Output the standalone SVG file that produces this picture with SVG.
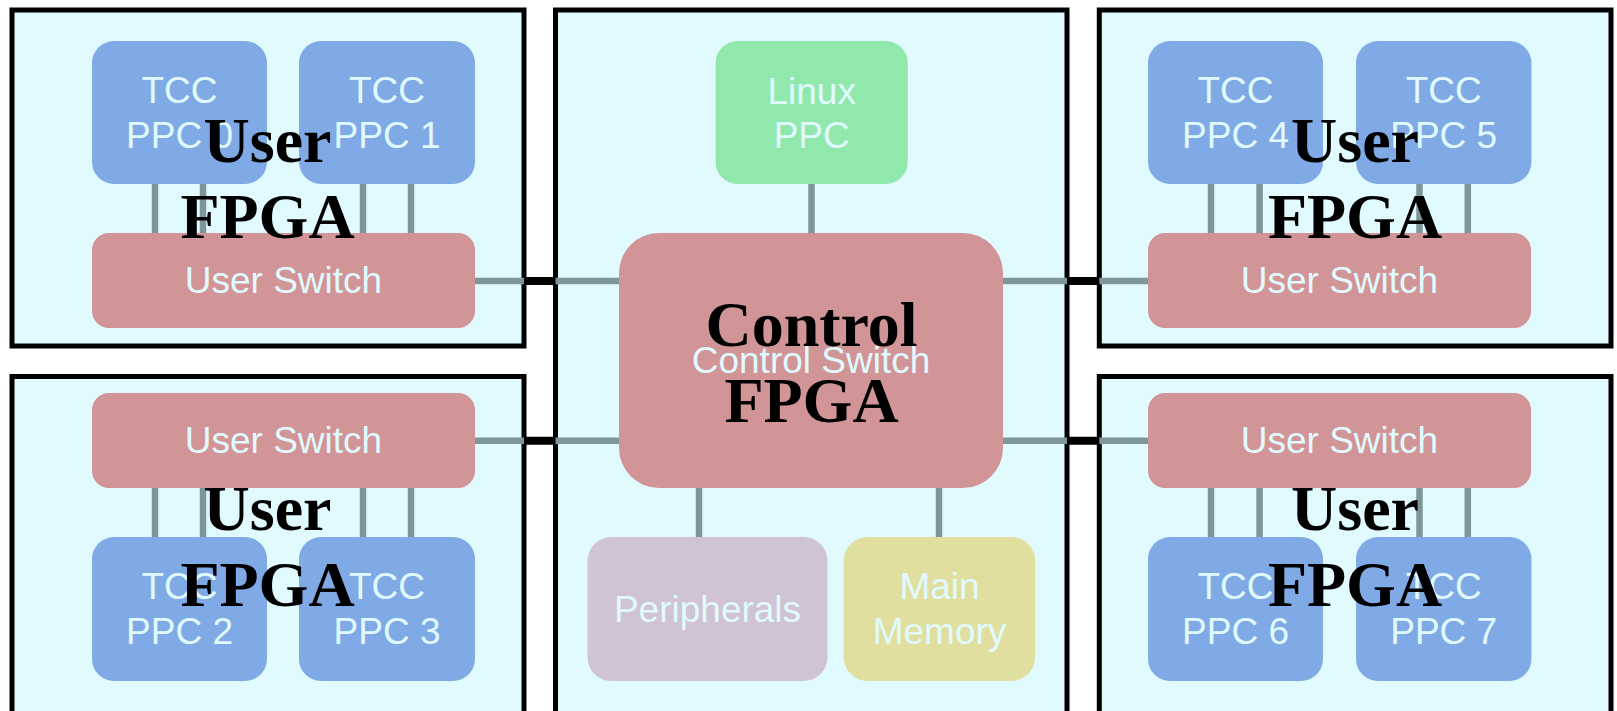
<svg xmlns="http://www.w3.org/2000/svg" width="1617" height="711" viewBox="0 0 1617 711">
<style>
.cluster{fill:#e0fafe;stroke:#000;stroke-width:5}
.ppc{fill:#7faae6}
.sw{fill:#d19597}
.linux{fill:#91e8ac}
.peri{fill:#d0c3d4}
.mem{fill:#e1dfa0}
.t{font-family:"Liberation Sans",Arial,sans-serif;font-size:37px;fill:#e0fafe;text-anchor:middle}
.big{font-family:"Liberation Serif","Times New Roman",serif;font-weight:bold;font-size:64px;fill:#000;text-anchor:middle}
.conn{stroke:#7e9698;stroke-width:6.5;fill:none}
.bridge{stroke:#000;stroke-width:8;fill:none}
</style>
<g id="clusters">
<rect id="cluster-user-tl" class="cluster" x="12" y="10" width="512" height="336"/>
<rect id="cluster-user-bl" class="cluster" x="12" y="376.5" width="512" height="340"/>
<rect id="cluster-control" class="cluster" x="555.5" y="10" width="511.5" height="706"/>
<rect id="cluster-user-tr" class="cluster" x="1099.3" y="10" width="511.7" height="336"/>
<rect id="cluster-user-br" class="cluster" x="1099.3" y="376.5" width="511.7" height="340"/>
</g>
<g id="connectors">
<path class="conn" d="M155 184V233M203 184V233M363 184V233M411 184V233"/>
<path class="conn" d="M155 488V537M203 488V537M363 488V537M411 488V537"/>
<path class="conn" d="M1211 184V233M1259.6 184V233M1419.5 184V233M1467.8 184V233"/>
<path class="conn" d="M1211 488V537M1259.6 488V537M1419.5 488V537M1467.8 488V537"/>
<path class="conn" d="M811.5 184V233M699 488V537M939 488V537"/>
<path class="conn" d="M475 281H619M475 440.7H619M1003 281H1148M1003 440.7H1148"/>
<path class="bridge" d="M524 281H555.5M524 440.7H555.5M1067 281H1099.3M1067 440.7H1099.3"/>
</g>
<g id="ppc0"><rect class="ppc" x="92" y="41" width="175" height="143" rx="22"/><text class="t" x="179.5" y="103">TCC</text><text class="t" x="179.5" y="148">PPC 0</text></g>
<g id="ppc1"><rect class="ppc" x="299" y="41" width="176" height="143" rx="22"/><text class="t" x="387" y="103">TCC</text><text class="t" x="387" y="148">PPC 1</text></g>
<g id="switch-tl"><rect class="sw" x="92" y="233" width="383" height="95" rx="17"/><text class="t" x="283.5" y="293">User Switch</text></g>
<g id="switch-bl"><rect class="sw" x="92" y="393" width="383" height="95" rx="17"/><text class="t" x="283.5" y="453">User Switch</text></g>
<g id="ppc2"><rect class="ppc" x="92" y="537" width="175" height="144" rx="22"/><text class="t" x="179.5" y="599">TCC</text><text class="t" x="179.5" y="644">PPC 2</text></g>
<g id="ppc3"><rect class="ppc" x="299" y="537" width="176" height="144" rx="22"/><text class="t" x="387" y="599">TCC</text><text class="t" x="387" y="644">PPC 3</text></g>
<g id="linux"><rect class="linux" x="715.6" y="41" width="192.2" height="143" rx="22"/><text class="t" x="811.7" y="104">Linux</text><text class="t" x="811.7" y="148">PPC</text></g>
<g id="control-switch"><rect class="sw" x="619" y="233" width="384" height="255" rx="40"/><text class="t" x="811" y="373">Control Switch</text></g>
<g id="peripherals"><rect class="peri" x="587.5" y="537" width="240" height="144" rx="24"/><text class="t" x="707.5" y="622">Peripherals</text></g>
<g id="main-memory"><rect class="mem" x="843.7" y="537" width="191.5" height="144" rx="24"/><text class="t" x="939.5" y="599">Main</text><text class="t" x="939.5" y="644">Memory</text></g>
<g id="ppc4"><rect class="ppc" x="1148" y="41" width="175" height="143" rx="22"/><text class="t" x="1235.5" y="103">TCC</text><text class="t" x="1235.5" y="148">PPC 4</text></g>
<g id="ppc5"><rect class="ppc" x="1356" y="41" width="175.4" height="143" rx="22"/><text class="t" x="1443.7" y="103">TCC</text><text class="t" x="1443.7" y="148">PPC 5</text></g>
<g id="switch-tr"><rect class="sw" x="1148" y="233" width="383" height="95" rx="17"/><text class="t" x="1339.5" y="293">User Switch</text></g>
<g id="switch-br"><rect class="sw" x="1148" y="393" width="383" height="95" rx="17"/><text class="t" x="1339.5" y="453">User Switch</text></g>
<g id="ppc6"><rect class="ppc" x="1148" y="537" width="175" height="144" rx="22"/><text class="t" x="1235.5" y="599">TCC</text><text class="t" x="1235.5" y="644">PPC 6</text></g>
<g id="ppc7"><rect class="ppc" x="1356" y="537" width="175.4" height="144" rx="22"/><text class="t" x="1443.7" y="599">TCC</text><text class="t" x="1443.7" y="644">PPC 7</text></g>
<g id="cluster-labels">
<text class="big" x="267.5" y="162">User</text><text class="big" x="267.5" y="238">FPGA</text>
<text class="big" x="267.5" y="530">User</text><text class="big" x="267.5" y="606">FPGA</text>
<text class="big" x="811.5" y="345.5">Control</text><text class="big" x="811.5" y="421.5">FPGA</text>
<text class="big" x="1355" y="162">User</text><text class="big" x="1355" y="238">FPGA</text>
<text class="big" x="1355" y="530">User</text><text class="big" x="1355" y="606">FPGA</text>
</g>
</svg>
